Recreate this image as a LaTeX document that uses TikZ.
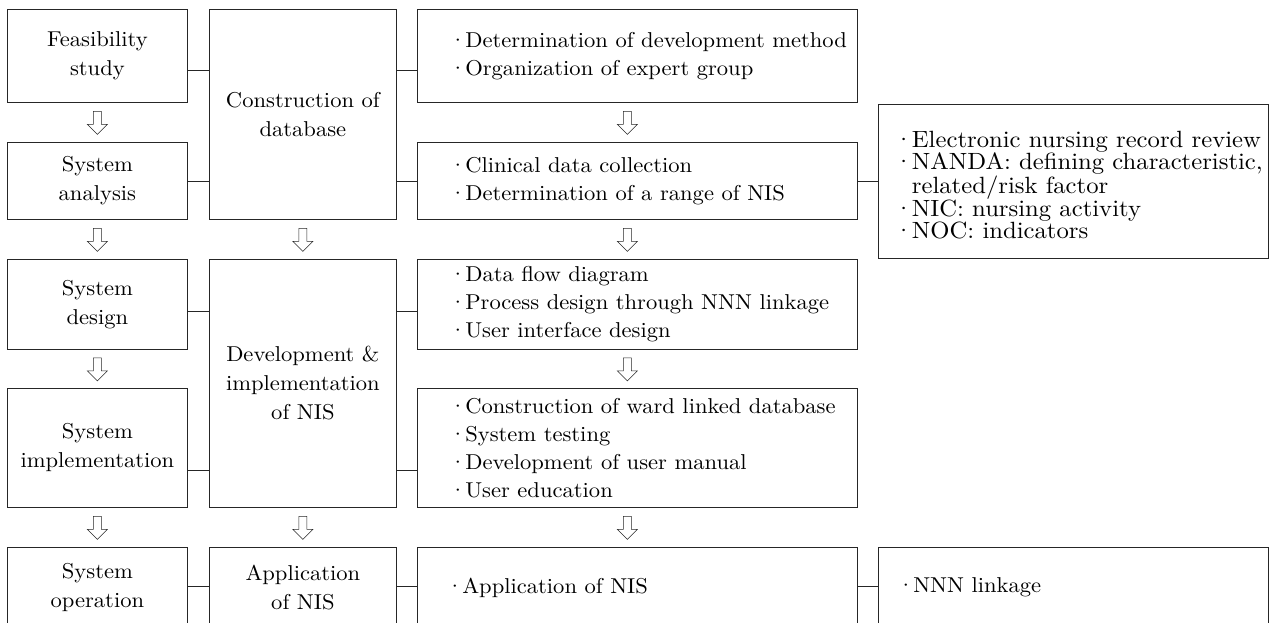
\documentclass[tikz,border=0pt]{standalone}
\usepackage{fontspec}
\setmainfont{lmroman10-regular.otf}[FakeStretch=1.05]
\usetikzlibrary{positioning, calc}

\newcommand{\dotitem}{·\hspace{-1.5pt}}

\tikzset{
  stage/.style={draw=black!85, line width=0.8pt, align=center, inner sep=0pt,
    anchor=north west, font=\fontsize{21.5}{29}\selectfont},
  task/.style={draw=black!85, line width=0.8pt, inner sep=0pt, anchor=north west},
  tasktext/.style={anchor=west, align=left, inner sep=0pt, font=\fontsize{21.5}{28}\selectfont},
  link/.style={draw=black!85, line width=0.8pt},
  hollowdown/.pic={
    \draw[line width=0.6pt, black!85, fill=white]
      (-4,-11) -- (4,-11) -- (4,2) -- (10,2) -- (0,12) -- (-10,2) -- (-4,2) -- cycle;
  }
}

\begin{document}
\begin{tikzpicture}[x=1pt, y=-1pt]
\useasboundingbox (0,0) rectangle (1271,623);
\clip (0,0) rectangle (1271,623);

% levels of the links
\coordinate (lv1) at (0,70);
\coordinate (lv2) at (0,181);
\coordinate (lv3) at (0,311);
\coordinate (lv4) at (0,470);
\coordinate (lv5) at (0,586);

% system development stages
\node[stage, minimum width=180pt, minimum height=93pt]  (feas) at (7,9)   {Feasibility\\study};
\node[stage, minimum width=180pt, minimum height=77pt]  (anal) at (7,142) {System\\analysis};
\node[stage, minimum width=180pt, minimum height=90pt]  (desi) at (7,259) {System\\design};
\node[stage, minimum width=180pt, minimum height=119pt] (impl) at (7,388) {System\\implementation};
\node[stage, minimum width=180pt, minimum height=80pt]  (oper) at (7,547) {System\\operation};

% NIS stages
\node[stage, minimum width=187pt, minimum height=210pt] (cons) at (209,9)   {Construction of\\database};
\node[stage, minimum width=187pt, minimum height=248pt] (deve) at (209,259) {Development \&\\implementation\\of NIS};
\node[stage, minimum width=187pt, minimum height=80pt]  (appl) at (209,547) {Application\\of NIS};

% tasks
\node[task, minimum width=440pt, minimum height=93pt]  (r1) at (417,9)   {};
\node[task, minimum width=440pt, minimum height=77pt]  (r2) at (417,142) {};
\node[task, minimum width=440pt, minimum height=90pt]  (r3) at (417,259) {};
\node[task, minimum width=440pt, minimum height=119pt] (r4) at (417,388) {};
\node[task, minimum width=440pt, minimum height=80pt]  (r5) at (417,547) {};

\node[tasktext] (r1t) at ([xshift=32pt]r1.west) {\dotitem Determination of development method\\\dotitem Organization of expert group};
\node[tasktext] (r2t) at ([xshift=32pt]r2.west) {\dotitem Clinical data collection\\\dotitem Determination of a range of NIS};
\node[tasktext] (r3t) at ([xshift=32pt]r3.west) {\dotitem Data flow diagram\\\dotitem Process design through NNN linkage\\\dotitem User interface design};
\node[tasktext] (r4t) at ([xshift=32pt]r4.west) {\dotitem Construction of ward linked database\\\dotitem System testing\\\dotitem Development of user manual\\\dotitem User education};
\node[tasktext] (r5t) at ([xshift=29pt]r5.west) {\dotitem Application of NIS};

% NNN details
\node[task, minimum width=390pt, minimum height=154pt] (nnn) at (878,104) {};
\node[task, minimum width=390pt, minimum height=80pt]  (nnnl) at (878,547) {};
\node[tasktext, font=\fontsize{23.5}{22}\selectfont] (nnnt) at ([xshift=16pt, yshift=-4pt]nnn.west)
  {\dotitem Electronic nursing record review\\\dotitem NANDA: defining characteristic,\\\phantom{\dotitem}related/risk factor\\\dotitem NIC: nursing activity\\\dotitem NOC: indicators};
\node[tasktext] (nnnlt) at ([xshift=19pt]nnnl.west) {\dotitem NNN linkage};

% links
\foreach \a/\b/\l in {feas/cons/lv1, anal/cons/lv2, desi/deve/lv3, impl/deve/lv4, oper/appl/lv5,
    cons/r1/lv1, cons/r2/lv2, deve/r3/lv3, deve/r4/lv4, appl/r5/lv5, r2/nnn/lv2, r5/nnnl/lv5}
  \draw[link] (\a.east |- \l) -- (\b.west |- \l);

% hollow arrows
\foreach \a/\b in {feas/anal, anal/desi, desi/impl, impl/oper, cons/deve, deve/appl}
  \pic at ($(\a.south)!.5!(\b.north)$) {hollowdown};
\foreach \a/\b in {r1/r2, r2/r3, r3/r4, r4/r5}
  \pic at ($(\a.south)!.5!(\b.north)+(-10,0)$) {hollowdown};
\end{tikzpicture}
\end{document}
